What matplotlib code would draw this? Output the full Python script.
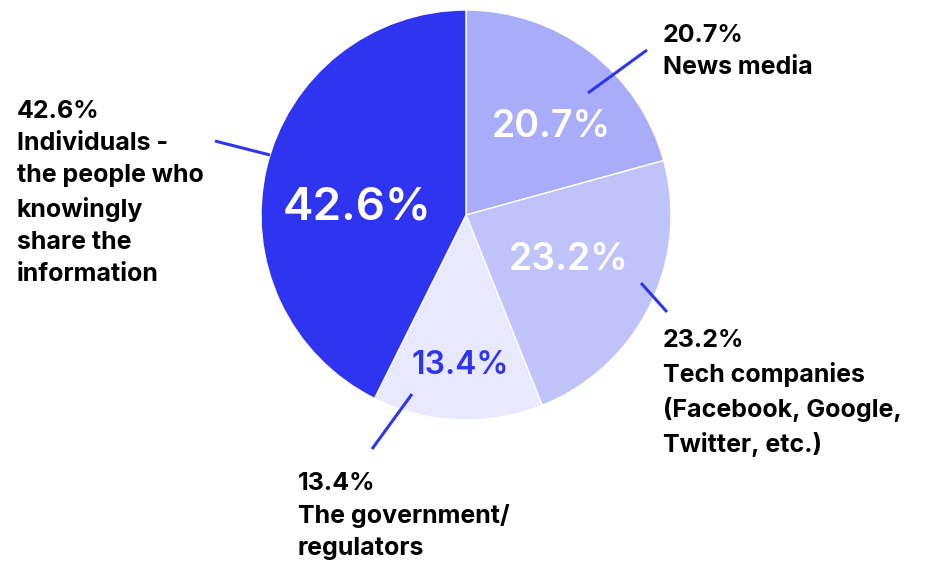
import matplotlib
matplotlib.use('Agg')
import matplotlib.pyplot as plt

# who is responsible for spreading misinformation (share of respondents, %)
categories = ['News media', 'Tech companies\n(Facebook, Google,\nTwitter, etc.)',
              'The government/\nregulators',
              'Individuals -\nthe people who\nknowingly\nshare the\ninformation']
shares = [20.7, 23.2, 13.4, 42.6]
colors = ['#a9acf8', '#c0c2fa', '#e8e8fe', '#2f34f0']

plt.rcParams['font.family'] = ['Inter', 'DejaVu Sans']

W, H = 948, 565
fig = plt.figure(figsize=(W / 100, H / 100), dpi=100)
ax = fig.add_axes([0, 0, 1, 1])

cx, cy, r = 466, H - 215, 205

wedges, _ = ax.pie(shares, colors=colors, startangle=90, counterclock=False,
                   center=(cx, cy), radius=r, frame=True,
                   wedgeprops=dict(edgecolor='white', linewidth=1))
ax.set_xlim(0, W)
ax.set_ylim(0, H)
ax.set_aspect('equal')
ax.axis('off')

# values inside the slices: (x, y, size, color)
inner = [(551, 127, 27, 'white'),
         (569, 260, 27, 'white'),
         (460, 365, 23, '#2f34f0'),
         (357, 208, 33, 'white')]
for val, (x, y, fs, c) in zip(shares, inner):
    ax.text(x, H - y, f'{val}%', ha='center', va='center', fontsize=fs,
            color=c, fontweight='semibold')

# outside labels: top-left anchor of the text block
outer = [(663, 24), (663, 329), (298, 472), (17, 100)]
for val, cat, (x, y) in zip(shares, categories, outer):
    ax.text(x, H - y, f'{val}%\n{cat}', ha='left', va='top', fontsize=18,
            color='black', fontweight='bold', linespacing=1.5)

# leader lines from slice to label
leaders = [((588, 93), (647, 50)),
           ((641, 283), (667, 312)),
           ((412, 394), (372, 449)),
           ((270, 155), (215, 141))]
for (x0, y0), (x1, y1) in leaders:
    ax.plot([x0, x1], [H - y0, H - y1], color='#2f34f0', lw=2.2,
            solid_capstyle='butt')

fig.savefig('out.png', dpi=100, facecolor='white')
